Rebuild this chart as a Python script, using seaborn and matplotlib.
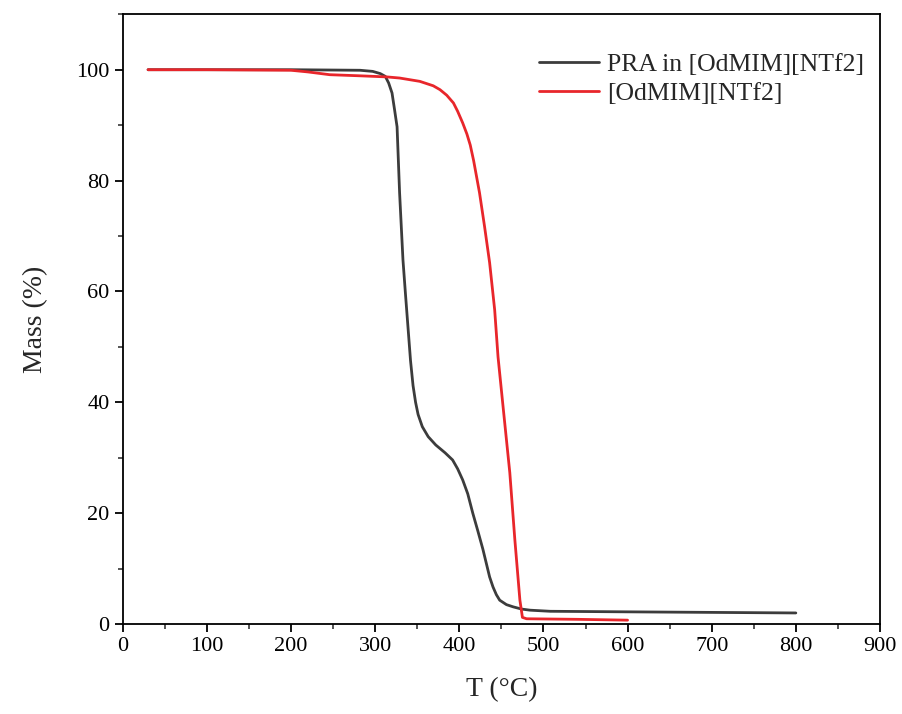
import matplotlib
matplotlib.use("Agg")
import matplotlib.pyplot as plt
from matplotlib.ticker import MultipleLocator
import seaborn as sns
import pandas as pd

# TGA curves
pra_T = [30, 100, 200, 282, 297, 306, 312, 316, 320, 323, 326, 329, 333, 336,
         339, 342, 345, 348, 351, 356, 363, 372, 383, 392, 398, 404, 410, 416,
         422, 428, 432, 436, 440, 444, 448, 456, 464, 474, 484, 508, 600, 700,
         800]
pra_M = [100, 100, 100, 99.9, 99.7, 99.3, 98.8, 97.6, 95.8, 92.8, 89.7, 77.8,
         65.7, 59.5, 53.5, 47.5, 43, 40, 37.8, 35.6, 33.8, 32.3, 30.9, 29.6,
         28, 26, 23.5, 20, 16.8, 13.5, 11, 8.5, 6.7, 5.3, 4.3, 3.5, 3.1, 2.7,
         2.5, 2.3, 2.2, 2.1, 2.0]

il_T = [30, 100, 200, 220, 246, 282, 314, 329, 353, 369, 377, 385, 393, 398,
        404, 409, 413, 417, 424, 430, 436, 442, 446, 452, 460, 466, 472, 475,
        480, 540, 600]
il_M = [100, 100, 99.9, 99.6, 99.1, 98.9, 98.7, 98.5, 97.9, 97.1, 96.4, 95.4,
        94, 92.5, 90.4, 88.4, 86.4, 83.6, 77.8, 71.7, 65.2, 56.7, 48.2, 39.2,
        27.3, 15.2, 4.3, 1.2, 0.95, 0.85, 0.7]

labels = ["PRA in [OdMIM][NTf2]", "[OdMIM][NTf2]"]
colors = ["#3c3c3c", "#e8262b"]

df = pd.concat([
    pd.DataFrame({"T": pra_T, "Mass": pra_M, "Sample": labels[0]}),
    pd.DataFrame({"T": il_T, "Mass": il_M, "Sample": labels[1]}),
], ignore_index=True)

sns.set_style("ticks")
plt.rcParams['font.family'] = ['Liberation Serif', 'DejaVu Serif']

fig = plt.figure(figsize=(9.03, 7.14), dpi=100)
ax = fig.add_axes([0.136, 0.126, 0.8385, 0.854])

sns.lineplot(data=df, x="T", y="Mass", hue="Sample", palette=colors,
             estimator=None, sort=False, linewidth=2.0, ax=ax)

ax.set_xlim(0, 900)
ax.set_ylim(0, 110)
ax.xaxis.set_major_locator(MultipleLocator(100))
ax.xaxis.set_minor_locator(MultipleLocator(50))
ax.yaxis.set_major_locator(MultipleLocator(20))
ax.yaxis.set_minor_locator(MultipleLocator(10))
ax.tick_params(which='major', direction='out', length=6, width=1.3,
               labelsize=16, color='black', labelcolor='black')
ax.tick_params(which='minor', direction='out', length=3.5, width=1.1)
for sp in ax.spines.values():
    sp.set_linewidth(1.3)
    sp.set_color('black')

ax.set_xlabel("T (°C)", fontsize=20, labelpad=15)
ax.set_ylabel("Mass (%)", fontsize=20, labelpad=20)

leg = ax.legend(loc='upper right', frameon=False, fontsize=18.5,
                handlelength=2.35, handletextpad=0.3, labelspacing=0.25,
                bbox_to_anchor=(1.009, 0.975))

plt.savefig("out.png", dpi=100)
